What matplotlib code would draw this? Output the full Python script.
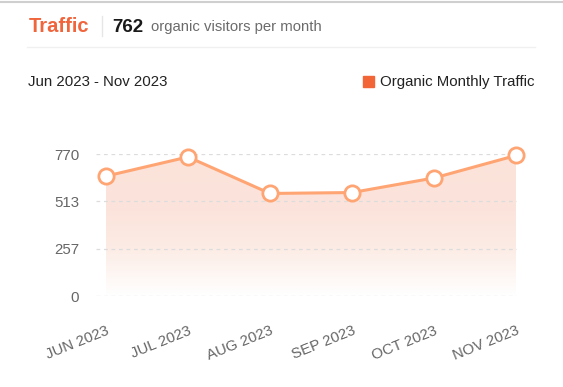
import numpy as np
import matplotlib
matplotlib.use('Agg')
import matplotlib.pyplot as plt
from matplotlib.colors import LinearSegmentedColormap
from matplotlib.lines import Line2D

# données
months = ['JUN 2023', 'JUL 2023', 'AUG 2023', 'SEP 2023', 'OCT 2023', 'NOV 2023']
traffic = [650, 754, 556, 561, 640, 762]
y_ticks = [0, 257, 513, 770]
total_visitors = 762

W, H = 563, 387
plt.rcParams['font.family'] = ['Liberation Sans', 'DejaVu Sans']

fig = plt.figure(figsize=(W / 100, H / 100), dpi=100)
fig.patch.set_facecolor('white')


def px(x, y):
    """pixels (origine en haut à gauche) -> coordonnées figure"""
    return x / W, 1 - y / H


# en-tête
fig.add_artist(Line2D([0, 1], [1 - 1.5 / H] * 2, color='#cfcfcf', lw=1.5))
fig.text(*px(29, 32), 'Traffic', color='#f0653c', fontsize=14.5, fontweight='bold', va='baseline')
fig.add_artist(Line2D([102 / W] * 2, [1 - 16 / H, 1 - 36 / H], color='#e6e6e6', lw=1))
fig.text(*px(112, 32), str(total_visitors), color='#1a1a1a', fontsize=13.5, fontweight='bold', va='baseline')
fig.text(*px(151, 31), 'organic visitors per month', color='#6b6b6b', fontsize=10.7, va='baseline')
fig.add_artist(Line2D([27 / W, 535 / W], [1 - 47 / H] * 2, color='#f0f0f0', lw=1))

fig.text(*px(28, 86), 'Jun 2023 - Nov 2023', color='#222222', fontsize=10.8, va='baseline')
fig.text(*px(535, 86), 'Organic Monthly Traffic', color='#222222', fontsize=10.8, va='baseline', ha='right')
fig.add_artist(plt.Rectangle(px(363, 87), 11 / W, 11 / H, color='#f26536'))

# zone du graphique
left, right, top, bottom = 96, 517, 154, 296
ax = fig.add_axes([left / W, 1 - bottom / H, (right - left) / W, (bottom - top) / H])
ax.set_facecolor('none')
x = np.arange(len(months))
ax.set_xlim(-10 / 82, 5 + 1 / 82)
ax.set_ylim(0, 770)

for v in y_ticks:
    ax.axhline(v, color='#dcdcdc', lw=0.9, ls=(0, (3, 3)), zorder=2)

# remplissage en dégradé
poly = ax.fill_between(x, traffic, 0, color='none', lw=0)
cmap = LinearSegmentedColormap.from_list('grad', [(0, '#ffffff'), (0.35, '#fcebe4'), (0.6, '#fbe4dc'), (1, '#fbe3da')])
grad = np.linspace(0, 1, 256).reshape(-1, 1)
img = ax.imshow(grad, cmap=cmap, aspect='auto', origin='lower',
                extent=[0, 5, 0, 770], zorder=1)
img.set_clip_path(poly.get_paths()[0], transform=ax.transData)

ax.plot(x, traffic, color='#ffa574', lw=2.2, zorder=3, marker='o', ms=11,
        mfc='white', mec='#ffa574', mew=2, clip_on=False)

ax.set_yticks(y_ticks)
ax.set_yticklabels([str(v) for v in y_ticks], color='#666666', fontsize=10.8)
ax.set_xticks(x)
ax.set_xticklabels(months, color='#666666', fontsize=10.8, rotation=22,
                   ha='right', rotation_mode='anchor')
ax.tick_params(axis='both', length=0)
ax.tick_params(axis='y', pad=12)
ax.tick_params(axis='x', pad=20)
for s in ax.spines.values():
    s.set_visible(False)

plt.savefig('out.png', dpi=100)
plt.close()
